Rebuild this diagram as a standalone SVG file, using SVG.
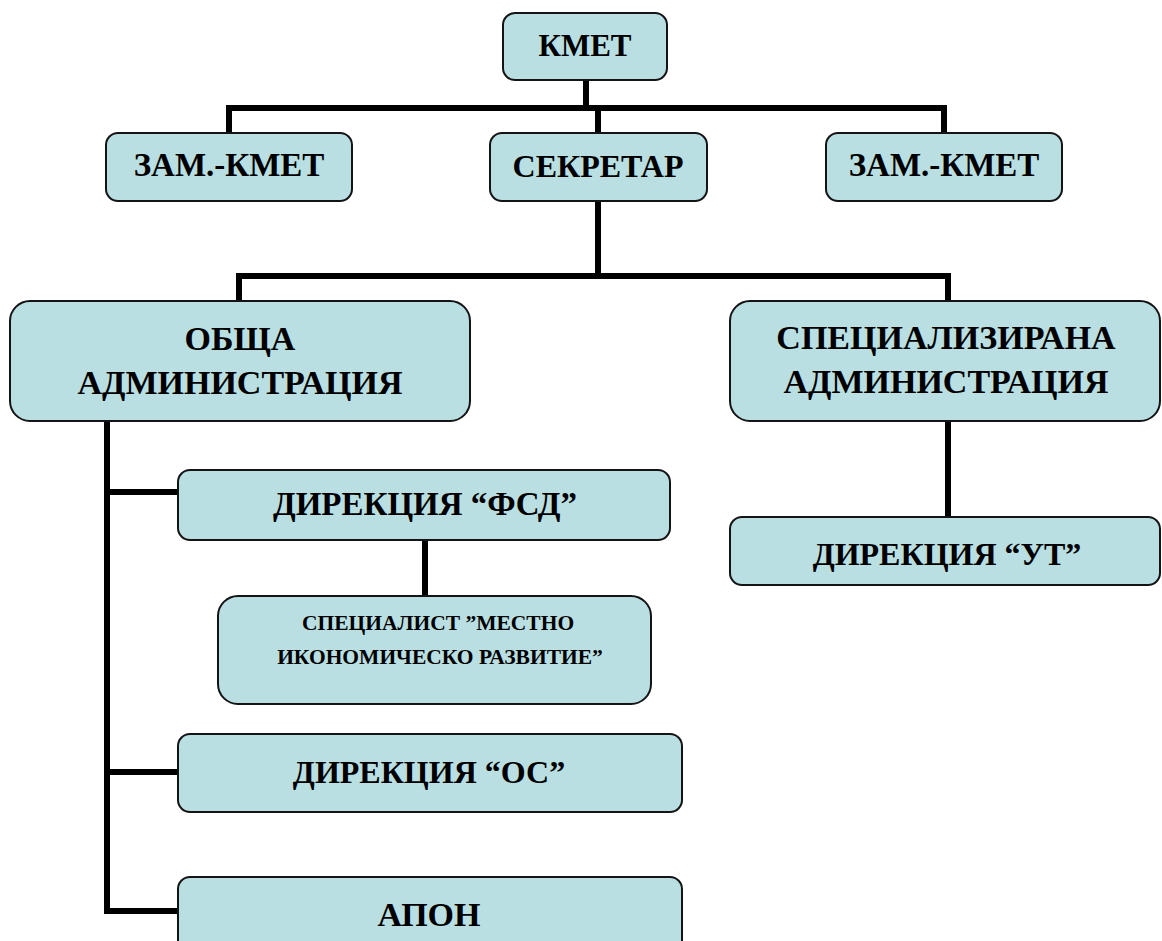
<svg xmlns="http://www.w3.org/2000/svg" width="1162" height="941" viewBox="0 0 1162 941">
<style>
.box{fill:#b9dfe2;stroke:#141414;stroke-width:2}
.lbl{font-family:"Liberation Serif","DejaVu Serif",serif;font-weight:bold;font-size:32px;fill:#000;text-anchor:middle}
.sm{font-size:21.5px}
.big{font-size:34px}
.con{fill:none;stroke:#000;stroke-width:6;stroke-linejoin:miter;stroke-linecap:square}
</style>
<rect width="1162" height="941" fill="#fff"/>
<g id="connectors">
<path class="con" d="M586 80V108"/>
<path class="con" d="M229 133V108H944V133"/>
<path class="con" d="M598 108V133"/>
<path class="con" d="M598 201V276"/>
<path class="con" d="M239 301V276H948V301"/>
<path class="con" d="M107 421V911H178"/>
<path class="con" d="M107 492H178"/>
<path class="con" d="M107 772H178"/>
<path class="con" d="M425 540V596"/>
<path class="con" d="M948 421V517"/>
</g>
<g id="kmet"><rect class="box" x="503" y="13" width="164" height="67" rx="12"/><text class="lbl" x="585" y="56" style="font-size:31px">КМЕТ</text></g>
<g id="zam1"><rect class="box" x="106" y="133" width="246" height="68" rx="12"/><text class="lbl" x="229" y="176" style="font-size:33px">ЗАМ.-КМЕТ</text></g>
<g id="sekretar"><rect class="box" x="490" y="133" width="217" height="68" rx="12"/><text class="lbl" x="598" y="177">СЕКРЕТАР</text></g>
<g id="zam2"><rect class="box" x="826" y="133" width="236" height="68" rx="12"/><text class="lbl" x="944" y="176" style="font-size:33px">ЗАМ.-КМЕТ</text></g>
<g id="obshta"><rect class="box" x="10" y="301" width="460" height="120" rx="20"/><text class="lbl big" x="240" y="350">ОБЩА</text><text class="lbl big" x="240" y="394">АДМИНИСТРАЦИЯ</text></g>
<g id="spec"><rect class="box" x="730" y="301" width="430" height="120" rx="20"/><text class="lbl big" x="946" y="349">СПЕЦИАЛИЗИРАНА</text><text class="lbl big" x="946" y="393">АДМИНИСТРАЦИЯ</text></g>
<g id="fsd"><rect class="box" x="178" y="470" width="492" height="70" rx="12"/><text class="lbl" x="425" y="515" style="font-size:33px">ДИРЕКЦИЯ “ФСД”</text></g>
<g id="ut"><rect class="box" x="730" y="517" width="430" height="68" rx="12"/><text class="lbl" x="947" y="565">ДИРЕКЦИЯ “УТ”</text></g>
<g id="specialist"><rect class="box" x="218" y="596" width="433" height="108" rx="20"/><text class="lbl sm" x="438" y="630">СПЕЦИАЛИСТ ”МЕСТНО</text><text class="lbl sm" x="440" y="664">ИКОНОМИЧЕСКО РАЗВИТИЕ”</text></g>
<g id="os"><rect class="box" x="178" y="734" width="504" height="78" rx="12"/><text class="lbl" x="429" y="783">ДИРЕКЦИЯ “ОС”</text></g>
<g id="apon"><rect class="box" x="178" y="877" width="504" height="80" rx="12"/><text class="lbl" x="429" y="926" style="font-size:34px">АПОН</text></g>
</svg>
